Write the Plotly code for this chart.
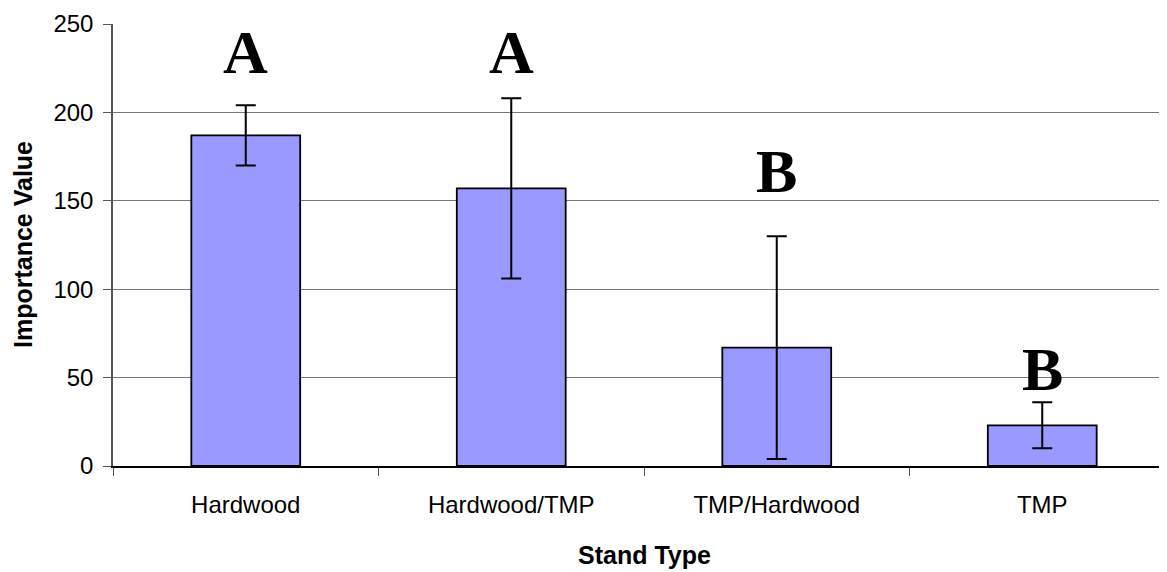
import plotly.graph_objects as go

categories = ["Hardwood", "Hardwood/TMP", "TMP/Hardwood", "TMP"]
importance = [187, 157, 67, 23]
err = [17, 51, 63, 13]
letters = ["A", "A", "B", "B"]
letter_y = [234, 234, 167, 55]

fig = go.Figure()
fig.add_trace(go.Bar(
    x=categories, y=importance, width=0.41,
    marker=dict(color="#9999FF", line=dict(color="black", width=1.8)),
    error_y=dict(type="data", array=err, visible=True, color="black", thickness=2, width=10),
))
for c, l, yv in zip(categories, letters, letter_y):
    fig.add_annotation(x=c, y=yv, text="<b>" + l + "</b>", showarrow=False,
                       font=dict(family="Liberation Serif", size=62, color="black"),
                       yanchor="middle")

fig.add_annotation(xref="paper", yref="paper", x=0.5, y=0, yanchor="middle", yshift=-89,
                   text="<b>Stand Type</b>", showarrow=False,
                   font=dict(family="Liberation Sans, Arial", size=25, color="black"))
fig.add_annotation(xref="paper", yref="paper", x=0, y=0.5, xanchor="center", xshift=-90,
                   text="<b>Importance Value</b>", showarrow=False, textangle=-90,
                   font=dict(family="Liberation Sans, Arial", size=25, color="black"))

fig.update_layout(
    width=1167, height=572,
    margin=dict(l=105, r=0, t=15.5, b=114),
    plot_bgcolor="white", paper_bgcolor="white",
    showlegend=False,
    font=dict(family="Liberation Sans, Arial", size=24, color="black"),
)
fig.update_xaxes(
    range=[-0.5, 3.5], tickson="boundaries", ticks="outside", ticklen=8,
    tickcolor="#555", showline=True, linecolor="black", linewidth=1.5,
    tickfont=dict(size=24), ticklabelstandoff=16,
)
fig.update_yaxes(
    range=[0, 250], tickvals=[0, 50, 100, 150, 200, 250], ticks="outside", ticklen=8,
    tickcolor="#555", showline=True, linecolor="#555", linewidth=1.5,
    showgrid=True, gridcolor="#777", gridwidth=1, zeroline=False,
    tickfont=dict(size=24), ticklabelstandoff=5,
)
fig.write_html("out.html")
